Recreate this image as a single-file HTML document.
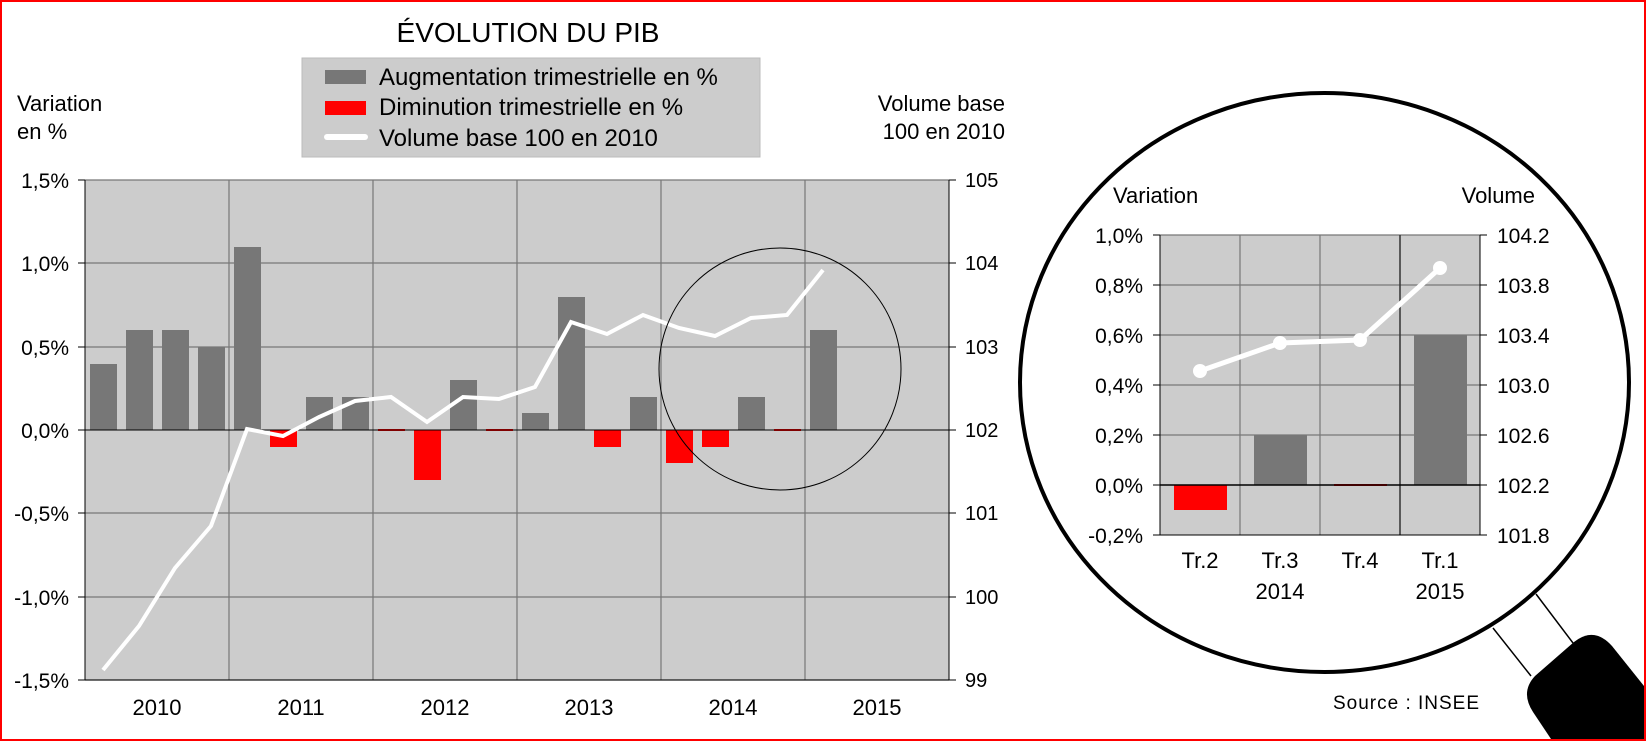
<!DOCTYPE html>
<html><head><meta charset="utf-8"><style>
body{margin:0;background:#fff}
svg{display:block;font-family:"Liberation Sans",sans-serif}
</style></head><body>
<svg width="1646" height="741" viewBox="0 0 1646 741">
<rect x="1" y="1" width="1644" height="739" fill="#fff" stroke="#f00" stroke-width="2"/>
<text x="528" y="42" font-size="28" text-anchor="middle">ÉVOLUTION DU PIB</text>
<rect x="302" y="58" width="458" height="99" fill="#ccc" stroke="#bbb"/>
<rect x="325" y="70" width="41" height="14" fill="#777"/>
<rect x="325" y="101" width="41" height="14" fill="#f00"/>
<rect x="324" y="134" width="44" height="6" rx="3" fill="#fff"/>
<g font-size="24"><text x="379" y="85">Augmentation trimestrielle en %</text>
<text x="379" y="115">Diminution trimestrielle en %</text>
<text x="379" y="146">Volume base 100 en  2010</text></g>
<g font-size="22"><text x="17" y="111">Variation</text><text x="17" y="139">en %</text>
<text x="1005" y="111" text-anchor="end">Volume base</text><text x="1005" y="139" text-anchor="end">100 en 2010</text></g>
<rect x="85" y="180" width="864" height="500" fill="#ccc"/>
<g stroke="#777" stroke-width="1.2">
<line x1="85" y1="180" x2="949" y2="180"/><line x1="85" y1="263" x2="949" y2="263"/><line x1="85" y1="347" x2="949" y2="347"/><line x1="85" y1="513" x2="949" y2="513"/><line x1="85" y1="597" x2="949" y2="597"/><line x1="85" y1="680" x2="949" y2="680"/>
<line x1="229" y1="180" x2="229" y2="680"/><line x1="373" y1="180" x2="373" y2="680"/><line x1="517" y1="180" x2="517" y2="680"/><line x1="661" y1="180" x2="661" y2="680"/><line x1="805" y1="180" x2="805" y2="680"/>
</g>
<g stroke="#000"><line x1="85" y1="180" x2="85" y2="680"/><line x1="949" y1="180" x2="949" y2="680"/><line x1="85" y1="680" x2="949" y2="680"/>
<line x1="78" y1="180" x2="85" y2="180"/><line x1="78" y1="263" x2="85" y2="263"/><line x1="78" y1="347" x2="85" y2="347"/><line x1="78" y1="430" x2="85" y2="430"/><line x1="78" y1="513" x2="85" y2="513"/><line x1="78" y1="597" x2="85" y2="597"/><line x1="78" y1="680" x2="85" y2="680"/>
<line x1="949" y1="180" x2="956" y2="180"/><line x1="949" y1="263" x2="956" y2="263"/><line x1="949" y1="347" x2="956" y2="347"/><line x1="949" y1="430" x2="956" y2="430"/><line x1="949" y1="513" x2="956" y2="513"/><line x1="949" y1="597" x2="956" y2="597"/><line x1="949" y1="680" x2="956" y2="680"/></g>
<g fill="#777">
<rect x="90" y="364" width="27" height="66"/><rect x="126" y="330" width="27" height="100"/><rect x="162" y="330" width="27" height="100"/><rect x="198" y="347" width="27" height="83"/><rect x="234" y="247" width="27" height="183"/>
<rect x="306" y="397" width="27" height="33"/><rect x="342" y="397" width="27" height="33"/><rect x="450" y="380" width="27" height="50"/><rect x="522" y="413" width="27" height="17"/><rect x="558" y="297" width="27" height="133"/><rect x="630" y="397" width="27" height="33"/><rect x="738" y="397" width="27" height="33"/><rect x="810" y="330" width="27" height="100"/>
</g>
<g fill="#f00">
<rect x="270" y="430" width="27" height="17"/><rect x="378" y="429" width="27" height="2"/><rect x="414" y="430" width="27" height="50"/><rect x="486" y="429" width="27" height="2"/><rect x="594" y="430" width="27" height="17"/><rect x="666" y="430" width="27" height="33"/><rect x="702" y="430" width="27" height="17"/><rect x="774" y="429" width="27" height="2"/>
</g>
<line x1="85" y1="430" x2="949" y2="430" stroke="#000"/>
<polyline fill="none" stroke="#fff" stroke-width="4" points="103,670 139,626 175,568 211,526 247,429 283,436 319,417 355,401 391,397 427,422 463,397 499,399 535,387 571,322 607,334 643,315 679,328 715,336 751,318 787,315 823,270"/>
<circle cx="780" cy="369" r="121" fill="none" stroke="#000" stroke-width="1"/>
<g font-size="21" text-anchor="end"><text x="69" y="188">1,5%</text><text x="69" y="271">1,0%</text><text x="69" y="355">0,5%</text><text x="69" y="438">0,0%</text><text x="69" y="521">-0,5%</text><text x="69" y="605">-1,0%</text><text x="69" y="688">-1,5%</text></g>
<g font-size="20"><text x="965" y="187">105</text><text x="965" y="270">104</text><text x="965" y="354">103</text><text x="965" y="437">102</text><text x="965" y="520">101</text><text x="965" y="604">100</text><text x="965" y="687">99</text></g>
<g font-size="22" text-anchor="middle"><text x="157" y="715">2010</text><text x="301" y="715">2011</text><text x="445" y="715">2012</text><text x="589" y="715">2013</text><text x="733" y="715">2014</text><text x="877" y="715">2015</text></g>
<!-- magnifier -->
<line x1="1536" y1="594" x2="1573" y2="643" stroke="#000" stroke-width="1.5"/>
<line x1="1493" y1="628" x2="1531" y2="676" stroke="#000" stroke-width="1.5"/>
<path d="M1535,676 L1574,642 Q1594,626 1612,646 L1644,686 L1644,739 L1551,739 L1533,712 Q1520,692 1535,676 Z" fill="#000"/>
<ellipse cx="1324.5" cy="382.5" rx="304.5" ry="289.5" fill="#fff" stroke="#000" stroke-width="4"/>
<rect x="1160" y="235" width="320" height="300" fill="#ccc"/>
<g stroke="#777" stroke-width="1.2"><line x1="1160" y1="235" x2="1480" y2="235"/><line x1="1160" y1="285" x2="1480" y2="285"/><line x1="1160" y1="335" x2="1480" y2="335"/><line x1="1160" y1="385" x2="1480" y2="385"/><line x1="1160" y1="435" x2="1480" y2="435"/><line x1="1240" y1="235" x2="1240" y2="535"/><line x1="1320" y1="235" x2="1320" y2="535"/></g>
<line x1="1400" y1="235" x2="1400" y2="535" stroke="#333" stroke-width="1.5"/>
<g stroke="#000"><line x1="1160" y1="235" x2="1160" y2="535"/><line x1="1480" y1="235" x2="1480" y2="535"/><line x1="1153" y1="535" x2="1487" y2="535"/>
<line x1="1153" y1="235" x2="1160" y2="235"/><line x1="1153" y1="285" x2="1160" y2="285"/><line x1="1153" y1="335" x2="1160" y2="335"/><line x1="1153" y1="385" x2="1160" y2="385"/><line x1="1153" y1="435" x2="1160" y2="435"/><line x1="1153" y1="485" x2="1160" y2="485"/>
<line x1="1480" y1="235" x2="1487" y2="235"/><line x1="1480" y1="285" x2="1487" y2="285"/><line x1="1480" y1="335" x2="1487" y2="335"/><line x1="1480" y1="385" x2="1487" y2="385"/><line x1="1480" y1="435" x2="1487" y2="435"/><line x1="1480" y1="485" x2="1487" y2="485"/></g>
<rect x="1174" y="485" width="53" height="25" fill="#f00"/>
<rect x="1254" y="435" width="53" height="50" fill="#777"/>
<rect x="1334" y="484" width="53" height="2" fill="#f00"/>
<rect x="1414" y="335" width="53" height="150" fill="#777"/>
<line x1="1160" y1="485" x2="1480" y2="485" stroke="#000" stroke-width="1.5"/>
<polyline fill="none" stroke="#fff" stroke-width="5" points="1200,371 1280,343 1360,340 1440,268"/>
<g fill="#fff"><circle cx="1200" cy="371" r="7"/><circle cx="1280" cy="343" r="7"/><circle cx="1360" cy="340" r="7"/><circle cx="1440" cy="268" r="7"/></g>
<g font-size="22"><text x="1113" y="203">Variation</text><text x="1535" y="203" text-anchor="end">Volume</text></g>
<g font-size="21" text-anchor="end"><text x="1143" y="243">1,0%</text><text x="1143" y="293">0,8%</text><text x="1143" y="343">0,6%</text><text x="1143" y="393">0,4%</text><text x="1143" y="443">0,2%</text><text x="1143" y="493">0,0%</text><text x="1143" y="543">-0,2%</text></g>
<g font-size="21"><text x="1497" y="243">104.2</text><text x="1497" y="293">103.8</text><text x="1497" y="343">103.4</text><text x="1497" y="393">103.0</text><text x="1497" y="443">102.6</text><text x="1497" y="493">102.2</text><text x="1497" y="543">101.8</text></g>
<g font-size="22" text-anchor="middle"><text x="1200" y="568">Tr.2</text><text x="1280" y="568">Tr.3</text><text x="1280" y="599">2014</text><text x="1360" y="568">Tr.4</text><text x="1440" y="568">Tr.1</text><text x="1440" y="599">2015</text></g>
<text x="1333" y="709" font-size="19" textLength="146">Source : INSEE</text>
</svg>
</body></html>
